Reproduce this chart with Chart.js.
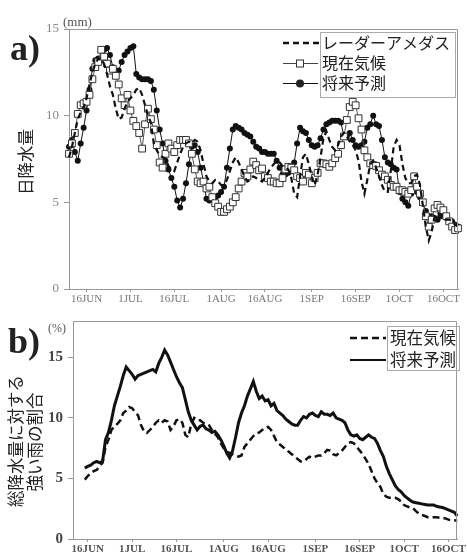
<!DOCTYPE html>
<html><head><meta charset="utf-8">
<script src="https://cdn.jsdelivr.net/npm/chart.js@4"></script>
<style>
html,body{margin:0;padding:0;background:#fff;}
canvas{position:absolute;left:0;}
#c1{top:0;}
#c2{top:305px;}
</style></head><body>
<canvas id="c1" width="467" height="305"></canvas>
<canvas id="c2" width="467" height="251"></canvas>
<script>
// ---- tick labels ----
const tickLabels = ['16JUN','1JUL','16JUL','1AUG','16AUG','1SEP','16SEP','1OCT','16OCT'];
const topTickDays = [6,21,36,52,67,83,98,113,128];   // index from 10 Jun
const botTickDays = [5,20,35,51,66,82,97,112,127];   // index from 11 Jun
const yTicks = [0,5,10,15];

// ---- a) daily precipitation (mm), 10 Jun .. 21 Oct ----
const radarAmedas = [7.6,8.2,9.0,9.8,10.2,10.5,11.0,11.8,12.5,13.0,
 13.3,13.2,13.0,12.4,11.7,11.2,10.4,9.8,9.9,10.4,
 10.8,11.0,11.2,11.5,11.6,11.2,10.6,10.0,9.6,8.4,
 8.0,7.7,7.6,7.5,7.1,6.9,6.8,7.3,7.8,8.2,
 8.4,8.5,8.4,8.6,8.5,8.0,7.2,6.5,6.2,6.1,
 6.3,6.2,6.0,6.0,6.3,6.8,7.3,7.6,7.3,6.9,
 6.5,6.2,6.3,6.5,6.4,6.3,6.2,6.4,6.7,7.0,
 7.2,7.4,7.3,7.1,7.0,6.9,6.4,5.5,5.3,6.5,
 7.6,7.8,7.2,6.5,6.0,6.6,7.6,8.7,9.1,8.6,
 8.2,8.0,8.3,8.8,9.0,8.8,8.5,8.3,8.0,7.4,
 6.2,5.5,6.3,7.2,7.4,7.0,6.5,6.0,5.6,5.6,
 6.8,8.2,8.6,8.3,7.2,6.4,6.1,6.1,6.5,6.6,
 6.0,4.8,3.6,2.8,3.3,4.2,4.4,4.3,4.1,4.0,
 4.0,3.9,3.7,3.6];
const presentTop = [7.8,8.4,9.0,10.1,10.6,10.7,10.8,11.2,12.1,12.8,
 13.1,13.8,13.4,13.0,12.6,12.7,12.3,11.8,11.0,10.6,
 11.2,10.3,9.7,9.4,9.0,8.1,9.5,10.4,9.8,9.2,
 8.3,7.3,7.0,7.8,8.4,8.1,7.9,8.3,8.6,8.6,
 8.6,8.4,7.8,6.9,6.2,6.1,6.2,5.8,5.9,5.3,
 4.95,4.75,4.45,4.45,4.6,4.75,5.0,5.3,5.8,6.2,
 6.7,6.5,6.9,7.35,7.15,6.85,6.95,6.5,6.4,6.2,
 6.2,6.1,6.1,6.4,6.9,7.05,7.0,6.85,6.5,6.4,
 6.2,6.7,6.6,6.1,6.4,6.7,7.25,7.25,7.2,7.05,
 7.25,7.55,7.8,8.3,8.8,9.75,10.5,10.8,10.6,9.85,
 9.2,8.0,7.6,7.25,7.15,7.1,6.85,6.6,6.5,6.3,
 6.0,5.9,5.9,5.7,5.7,5.6,5.5,5.7,6.5,5.9,
 5.5,5.0,4.2,3.6,4.0,4.65,4.85,4.7,4.55,4.2,
 3.9,3.6,3.4,3.5];
const futureTop = [8.2,8.6,7.9,7.4,8.4,9.3,10.3,11.5,12.7,13.2,
 13.3,13.2,13.8,13.9,13.5,12.8,12.5,12.6,13.1,13.5,
 13.7,13.9,14.0,12.4,12.2,12.1,12.1,12.1,12.0,11.5,
 10.3,9.2,8.4,7.4,6.9,6.4,5.9,5.1,4.7,5.2,
 6.1,7.2,8.2,8.3,7.9,7.0,6.2,5.2,5.1,5.2,
 5.3,5.4,5.6,5.9,7.0,8.1,9.2,9.4,9.3,9.2,
 9.0,8.9,8.8,8.5,8.2,8.1,7.9,7.9,7.8,7.8,
 7.8,7.4,7.0,6.6,6.6,6.7,6.9,7.3,8.4,9.3,
 9.1,9.0,8.6,8.3,8.2,8.3,8.7,9.2,9.5,9.6,
 9.7,9.7,9.7,9.6,8.8,8.8,9.0,8.6,8.3,8.2,
 8.3,8.5,9.3,9.5,10.0,9.5,9.4,8.6,7.6,7.3,
 7.2,7.0,6.9,5.6,5.2,5.0,4.8,5.5,5.8,5.6,
 5.3,5.0,4.5,4.2,4.2,4.1,4.0,4.2,4.3,4.1,
 3.9,3.9,3.7,3.6];

// ---- b) share of heavy rain in total precipitation (%), 11 Jun .. 19 Oct ----
const presentRatio = [null,null,null,null,4.9,5.2,5.45,5.6,5.7,6.0,
 6.3,7.6,8.2,9.0,9.3,9.5,9.8,10.4,10.6,10.9,
 10.8,10.5,10.2,9.4,8.9,8.75,9.0,9.25,9.6,9.8,
 9.6,9.8,9.7,9.0,9.3,9.8,9.9,9.6,8.6,8.4,
 9.5,10.0,9.8,9.8,9.6,9.5,9.4,9.0,8.7,8.4,
 7.9,7.5,7.2,7.1,7.0,6.9,6.8,6.9,7.6,7.9,
 8.2,8.5,8.7,8.8,9.0,9.2,9.25,9.0,8.5,8.0,
 7.8,7.6,7.4,7.2,7.0,6.8,6.6,6.4,6.4,6.6,
 6.8,6.7,6.8,6.9,6.9,7.1,7.35,7.3,7.0,6.9,
 7.1,7.3,7.6,7.9,8.0,7.9,7.6,7.3,7.0,6.6,
 6.2,5.6,5.0,4.6,4.3,3.7,3.5,3.4,3.4,3.4,
 3.3,3.1,2.8,2.7,2.6,2.55,2.3,2.1,2.0,1.9,
 1.8,1.8,1.8,1.8,1.75,1.75,1.7,1.6,1.55,1.55,
 1.5];
const futureRatio = [null,null,null,null,5.85,6.0,6.1,6.3,6.4,6.3,
 6.4,8.2,8.8,9.8,11.0,11.8,12.6,13.5,14.2,13.9,
 13.6,13.2,13.5,13.6,13.7,13.8,13.9,14.0,13.8,14.5,
 15.0,15.6,15.2,14.6,14.0,13.4,12.9,12.5,11.5,10.5,
 9.8,9.4,9.0,9.3,9.4,9.1,9.0,8.8,8.9,8.6,
 8.2,7.7,7.1,6.7,7.3,8.4,9.6,10.4,11.0,11.8,
 12.4,13.0,12.2,11.6,11.8,11.4,11.5,11.0,11.2,10.6,
 10.4,10.2,9.9,9.7,9.5,9.4,9.4,9.8,10.1,10.0,
 10.3,10.4,10.2,10.1,10.5,10.3,10.3,10.2,10.4,10.0,
 9.9,9.8,9.6,9.0,8.6,8.5,8.6,8.3,8.2,8.4,
 8.6,8.4,8.3,7.9,7.3,6.8,6.0,5.4,4.9,4.4,
 4.1,3.9,3.6,3.4,3.2,3.05,3.0,2.95,2.9,2.85,
 2.8,2.8,2.8,2.7,2.65,2.6,2.5,2.4,2.3,2.2,
 1.9];

function makeLabels(m, d, n) {
  const out = [];
  for (let i = 0; i < n; i++) {
    const dt = new Date(2000, m, d + i);
    out.push((dt.getMonth() + 1) + '/' + dt.getDate());
  }
  return out;
}
const topDays = makeLabels(5, 10, radarAmedas.length);
const botDays = makeLabels(5, 11, presentRatio.length);

const JP = '"Noto Sans CJK JP", "Noto Sans", sans-serif';
const SERIF = '"Liberation Serif", "DejaVu Serif", serif';
const AXIS = '#999';

function xScale(tickDays, h, bold) {
  return {
    type: 'category',
    grid: { drawOnChartArea: false, drawTicks: true, tickLength: 3, color: AXIS },
    border: { color: AXIS, width: 1 },
    ticks: {
      autoSkip: false, maxRotation: 0, minRotation: 0, padding: 1,
      color: bold ? '#555' : '#777',
      font: { family: SERIF, size: 11, weight: bold ? 'bold' : 'normal' },
      callback: (v, i) => tickLabels[i]
    },
    afterBuildTicks: s => { s.ticks = tickDays.map(v => ({ value: v })); },
    afterFit: s => { s.height = h; }
  };
}
function yScale(max, w, font, color) {
  return {
    min: 0, max: max,
    grid: { drawOnChartArea: false, drawTicks: true, tickLength: 5, color: AXIS },
    border: { color: AXIS, width: 1 },
    ticks: { padding: 5, color: color, font: font },
    afterBuildTicks: s => { s.ticks = yTicks.map(v => ({ value: v })); },
    afterFit: s => { s.width = w; }
  };
}

function frame(ctx, a) {
  ctx.save();
  ctx.strokeStyle = AXIS; ctx.lineWidth = 1;
  ctx.beginPath();
  ctx.moveTo(Math.round(a.left) + 0.5, Math.round(a.top) + 0.5);
  ctx.lineTo(Math.round(a.right) - 0.5, Math.round(a.top) + 0.5);
  ctx.lineTo(Math.round(a.right) - 0.5, Math.round(a.bottom) + 0.5);
  ctx.stroke();
  ctx.restore();
}
function vText(ctx, text, x, y, font) {
  ctx.save();
  ctx.translate(x, y); ctx.rotate(-Math.PI / 2);
  ctx.font = font; ctx.fillStyle = '#222';
  ctx.textAlign = 'center'; ctx.textBaseline = 'middle';
  ctx.fillText(text, 0, 0);
  ctx.restore();
}

const topDecor = {
  id: 'topDecor',
  afterDraw(chart) {
    const ctx = chart.ctx;
    frame(ctx, chart.chartArea);
    ctx.save();
    ctx.fillStyle = '#222';
    ctx.font = 'bold 36px ' + SERIF;
    ctx.textBaseline = 'alphabetic';
    ctx.fillText('a)', 10, 60);
    ctx.font = '13px ' + SERIF; ctx.fillStyle = '#555';
    ctx.fillText('(mm)', 63, 26);
    ctx.restore();
    vText(ctx, '日降水量', 26, 162, '16.5px ' + JP);
    // legend
    ctx.save();
    ctx.strokeStyle = '#aaa'; ctx.lineWidth = 1;
    ctx.strokeRect(320.5, 32.5, 135, 65);
    ctx.font = '16px ' + JP; ctx.fillStyle = '#222';
    ctx.textBaseline = 'middle'; ctx.textAlign = 'left';
    const rows = [43, 63, 83];
    // radar
    ctx.strokeStyle = '#111'; ctx.lineWidth = 2.5; ctx.setLineDash([6, 4]);
    ctx.beginPath(); ctx.moveTo(283, rows[0]); ctx.lineTo(319, rows[0]); ctx.stroke();
    ctx.setLineDash([]);
    ctx.fillText('レーダーアメダス', 322, rows[0]);
    // present
    ctx.strokeStyle = '#444'; ctx.lineWidth = 1;
    ctx.beginPath(); ctx.moveTo(283, rows[1] + 0.5); ctx.lineTo(318, rows[1] + 0.5); ctx.stroke();
    ctx.fillStyle = '#fff'; ctx.fillRect(296.5, rows[1] - 3, 7, 7);
    ctx.strokeStyle = '#333'; ctx.strokeRect(296.5, rows[1] - 3, 7, 7);
    ctx.fillStyle = '#222';
    ctx.fillText('現在気候', 322, rows[1]);
    // future
    ctx.strokeStyle = '#111';
    ctx.beginPath(); ctx.moveTo(283, rows[2] + 0.5); ctx.lineTo(318, rows[2] + 0.5); ctx.stroke();
    ctx.beginPath(); ctx.arc(300, rows[2] + 0.5, 4, 0, Math.PI * 2); ctx.fill();
    ctx.fillText('将来予測', 322, rows[2]);
    ctx.restore();
  }
};

const botDecor = {
  id: 'botDecor',
  afterDraw(chart) {
    const ctx = chart.ctx;
    frame(ctx, chart.chartArea);
    ctx.save();
    ctx.fillStyle = '#222';
    ctx.font = 'bold 36px ' + SERIF;
    ctx.fillText('b)', 8, 48);
    ctx.font = '12px ' + SERIF; ctx.fillStyle = '#555';
    ctx.fillText('(%)', 48, 27);
    ctx.restore();
    vText(ctx, '総降水量に対する', 15.5, 136, '16.5px ' + JP);
    vText(ctx, '強い雨の割合', 34.5, 137, '16.5px ' + JP);
    ctx.save();
    ctx.strokeStyle = '#aaa'; ctx.lineWidth = 1;
    ctx.strokeRect(387.5, 21.5, 72, 44);
    ctx.font = '16.5px ' + JP; ctx.fillStyle = '#222';
    ctx.textBaseline = 'middle';
    const rows = [33, 55];
    ctx.strokeStyle = '#111'; ctx.lineWidth = 2.5; ctx.setLineDash([7, 4]);
    ctx.beginPath(); ctx.moveTo(350, rows[0]); ctx.lineTo(386, rows[0]); ctx.stroke();
    ctx.setLineDash([]); ctx.lineWidth = 2;
    ctx.beginPath(); ctx.moveTo(350, rows[1]); ctx.lineTo(386, rows[1]); ctx.stroke();
    ctx.fillText('現在気候', 390, rows[0]);
    ctx.fillText('将来予測', 390, rows[1]);
    ctx.restore();
  }
};

new Chart(document.getElementById('c1'), {
  type: 'line',
  data: {
    labels: topDays,
    datasets: [
      { label: 'レーダーアメダス', data: radarAmedas, borderColor: '#111', borderWidth: 2.2,
        borderDash: [6, 4], pointRadius: 0, tension: 0, fill: false },
      { label: '現在気候', data: presentTop, borderColor: '#555', borderWidth: 1,
        pointStyle: 'rect', pointRadius: 4.8, pointBackgroundColor: '#fff',
        pointBorderColor: '#333', pointBorderWidth: 1, tension: 0, fill: false },
      { label: '将来予測', data: futureTop, borderColor: '#111', borderWidth: 1,
        pointStyle: 'circle', pointRadius: 3, pointBackgroundColor: '#111',
        pointBorderColor: '#111', pointBorderWidth: 0, tension: 0, fill: false }
    ]
  },
  options: {
    responsive: false, animation: false, events: [],
    layout: { padding: { top: 29, right: 9, left: 0, bottom: 0 } },
    plugins: { legend: { display: false }, tooltip: { enabled: false } },
    scales: {
      x: xScale(topTickDays, 16, false),
      y: yScale(15, 69, { family: SERIF, size: 13 }, '#888')
    }
  },
  plugins: [topDecor]
});

new Chart(document.getElementById('c2'), {
  type: 'line',
  data: {
    labels: botDays,
    datasets: [
      { label: '現在気候', data: presentRatio, borderColor: '#111', borderWidth: 2.5,
        borderDash: [7, 4], pointRadius: 0, tension: 0, fill: false },
      { label: '将来予測', data: futureRatio, borderColor: '#111', borderWidth: 3,
        pointRadius: 0, tension: 0, fill: false }
    ]
  },
  options: {
    responsive: false, animation: false, events: [],
    layout: { padding: { top: 16, right: 7, left: 0, bottom: 0 } },
    plugins: { legend: { display: false }, tooltip: { enabled: false } },
    scales: {
      x: xScale(botTickDays, 17, true),
      y: yScale(18, 73, { family: SERIF, size: 15, weight: 'bold' }, '#444')
    }
  },
  plugins: [botDecor]
});
</script>
</body></html>
